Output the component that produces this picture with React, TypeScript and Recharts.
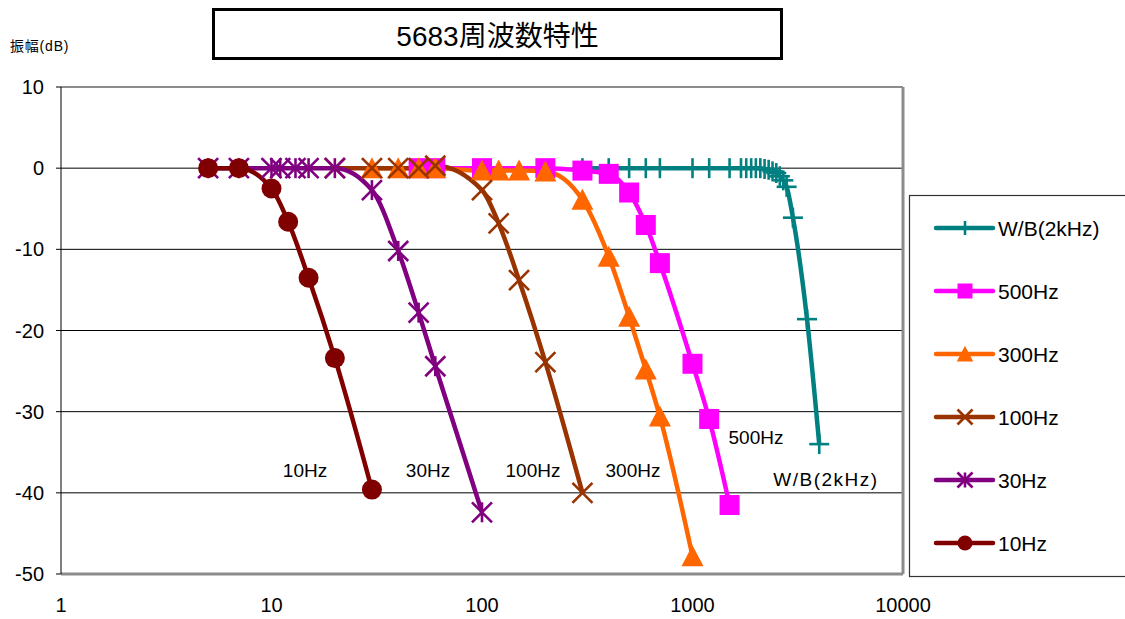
import React from 'react';
import { ComposedChart, Line, XAxis, YAxis, CartesianGrid, ReferenceLine } from 'recharts';

// ---- data ----
const wbFreq = [300, 400, 500, 600, 700, 1000, 1200, 1500, 1700, 1800, 1900, 2000, 2100, 2200, 2300, 2400, 2500, 2600, 2700, 2800, 3000, 3500, 4000];
const wbGain = [0, 0, 0, 0, 0, 0, 0, 0, 0, 0, 0, 0, 0, -0.1, -0.2, -0.4, -0.6, -1.0, -1.5, -2.3, -6.1, -18.6, -34.0];

const f500Freq = [50, 60, 100, 200, 300, 400, 500, 600, 700, 1000, 1200, 1500];
const f500Gain = [0, 0, 0, 0, -0.3, -0.7, -3.0, -7.0, -11.7, -24.1, -30.9, -41.5];

const f300Freq = [30, 40, 50, 60, 100, 120, 150, 200, 300, 400, 500, 600, 700, 1000];
const f300Gain = [0, 0, 0, 0, -0.3, -0.3, -0.3, -0.4, -3.9, -10.9, -18.3, -24.8, -30.6, -47.8];

const f100Freq = [20, 30, 40, 50, 60, 100, 120, 150, 200, 300];
const f100Gain = [0, 0, 0, 0, 0.3, -2.7, -6.8, -13.8, -23.9, -40.0];

const f30Freq = [5, 7, 10, 11, 13, 15, 20, 30, 40, 50, 60, 100];
const f30Gain = [0, 0, 0, 0, 0, 0, 0, -2.7, -10.2, -17.8, -24.4, -42.4];

const f10Freq = [5, 7, 10, 12, 15, 20, 30];
const f10Gain = [0, 0, -2.5, -6.6, -13.5, -23.4, -39.6];

const xTicks = [1, 10, 100, 1000, 10000];
const yTicks = [-50, -40, -30, -20, -10, 0, 10];

const seriesNames = ['W/B(2kHz)', '500Hz', '300Hz', '100Hz', '30Hz', '10Hz'];
const seriesColors = ['#008080', '#FF00FF', '#FF6600', '#993300', '#800080', '#800000'];
const seriesMarkers = ['plus', 'square', 'triangle', 'x', 'asterisk', 'circle'];
const seriesFreqs = [wbFreq, f500Freq, f300Freq, f100Freq, f30Freq, f10Freq];
const seriesGains = [wbGain, f500Gain, f300Gain, f100Gain, f30Gain, f10Gain];

const annotations = [
  { text: '10Hz', x: 305, y: 470 },
  { text: '30Hz', x: 428, y: 470 },
  { text: '100Hz', x: 533, y: 470 },
  { text: '300Hz', x: 633, y: 470 },
  { text: '500Hz', x: 756, y: 437 },
  { text: 'W/B(2kHz)', x: 826, y: 479 },
];

const FONT = '"Liberation Sans", Arial, "Noto Sans CJK JP", sans-serif';

function Marker({ kind, cx, cy, color, s }: { kind: string; cx: number; cy: number; color: string; s: number }) {
  const sw = 2.6;
  switch (kind) {
    case 'plus':
      return (
        <g stroke={color} strokeWidth={sw}>
          <line x1={cx - s} y1={cy} x2={cx + s} y2={cy} />
          <line x1={cx} y1={cy - s} x2={cx} y2={cy + s} />
        </g>
      );
    case 'square':
      return <rect x={cx - s} y={cy - s} width={2 * s} height={2 * s} fill={color} />;
    case 'triangle':
      return <polygon points={`${cx},${cy - s * 1.1} ${cx + s * 1.1},${cy + s} ${cx - s * 1.1},${cy + s}`} fill={color} />;
    case 'x':
      return (
        <g stroke={color} strokeWidth={sw}>
          <line x1={cx - s} y1={cy - s} x2={cx + s} y2={cy + s} />
          <line x1={cx - s} y1={cy + s} x2={cx + s} y2={cy - s} />
        </g>
      );
    case 'asterisk':
      return (
        <g stroke={color} strokeWidth={sw}>
          <line x1={cx - s} y1={cy - s} x2={cx + s} y2={cy + s} />
          <line x1={cx - s} y1={cy + s} x2={cx + s} y2={cy - s} />
          <line x1={cx} y1={cy - s} x2={cx} y2={cy + s} />
        </g>
      );
    default:
      return <circle cx={cx} cy={cy} r={s} fill={color} />;
  }
}

const YTick = (props: any) => {
  const { x, y, payload } = props;
  return (
    <text x={x} y={y} textAnchor="end" dominantBaseline="central" fontSize={20} fontFamily={FONT} fill="#000">
      {payload.value}
    </text>
  );
};

const XTick = (props: any) => {
  const { x, y, payload } = props;
  return (
    <text x={x} y={y + 31} textAnchor="middle" dominantBaseline="central" fontSize={20} fontFamily={FONT} fill="#000">
      {payload.value}
    </text>
  );
};

export default function App() {
  const datasets = seriesFreqs.map((fs, si) => fs.map((f, i) => ({ f, g: seriesGains[si][i] })));
  return (
    <div style={{ position: 'absolute', left: 0, top: 0, width: 1125, height: 619, background: '#fff', overflow: 'hidden', fontFamily: FONT }}>
      <ComposedChart width={1125} height={619} margin={{ top: 87, right: 222, bottom: 0, left: 0 }}>
        <CartesianGrid vertical={false} stroke="#000" strokeWidth={1} />
        <XAxis
          dataKey="f"
          type="number"
          scale="log"
          domain={[1, 10000]}
          ticks={xTicks}
          allowDataOverflow
          height={45}
          tickLine={false}
          tickSize={0}
          tickMargin={0}
          axisLine={false}
          tick={<XTick />}
        />
        <YAxis
          type="number"
          domain={[-50, 10]}
          ticks={yTicks}
          width={61}
          tickSize={5}
          tickMargin={12}
          axisLine={{ stroke: '#000', strokeWidth: 1 }}
          tickLine={{ stroke: '#000' }}
          tick={<YTick />}
        />
        <ReferenceLine y={10} stroke="#8c8c8c" strokeWidth={2} />
        <ReferenceLine y={-50} stroke="#8c8c8c" strokeWidth={3} />
        <ReferenceLine x={10000} stroke="#8c8c8c" strokeWidth={3} />
        {datasets.map((d, si) => (
          <Line
            key={seriesNames[si]}
            data={d}
            dataKey="g"
            name={seriesNames[si]}
            type="monotone"
            stroke={seriesColors[si]}
            strokeWidth={4.5}
            isAnimationActive={false}
            activeDot={false}
            dot={(p: any) => (
              <Marker key={`m-${si}-${p.index}`} kind={seriesMarkers[si]} cx={p.cx} cy={p.cy} color={seriesColors[si]} s={10} />
            )}
          />
        ))}
      </ComposedChart>

      {/* Title box */}
      <div
        style={{
          position: 'absolute',
          left: 212,
          top: 8,
          width: 571,
          height: 52,
          boxSizing: 'border-box',
          border: '3px solid #000',
          display: 'flex',
          alignItems: 'center',
          justifyContent: 'center',
          fontSize: 28,
          fontFamily: FONT,
          color: '#000',
          background: '#fff',
        }}
      >
        5683周波数特性
      </div>

      {/* Y-axis title */}
      <div style={{ position: 'absolute', left: 10, top: 35, fontSize: 14, letterSpacing: 0.8, fontFamily: FONT, color: '#000', whiteSpace: 'nowrap' }}>
        振幅(dB)
      </div>

      {/* Annotations and legend */}
      <svg width={1125} height={619} style={{ position: 'absolute', left: 0, top: 0, pointerEvents: 'none' }}>
        {annotations.map((a) => (
          <text
            key={a.text}
            x={a.x}
            y={a.y}
            textAnchor="middle"
            dominantBaseline="central"
            fontSize={19}
            fontFamily={FONT}
            letterSpacing={a.text.startsWith('W') ? 1.5 : 0}
            fill="#000"
          >
            {a.text}
          </text>
        ))}
        <rect x={909.5} y={195.5} width={230} height={381} fill="#fff" stroke="#333" strokeWidth={1.2} />
        {seriesNames.map((n, i) => {
          const cy = 228 + i * 63;
          return (
            <g key={n}>
              <line x1={936} y1={cy} x2={993} y2={cy} stroke={seriesColors[i]} strokeWidth={4.5} strokeLinecap="round" />
              <Marker kind={seriesMarkers[i]} cx={965} cy={cy} color={seriesColors[i]} s={seriesMarkers[i] === 'plus' ? 7 : 7.5} />
              <text x={998} y={cy} dominantBaseline="central" fontSize={21} fontFamily={FONT} fill="#000">
                {n}
              </text>
            </g>
          );
        })}
      </svg>
    </div>
  );
}
